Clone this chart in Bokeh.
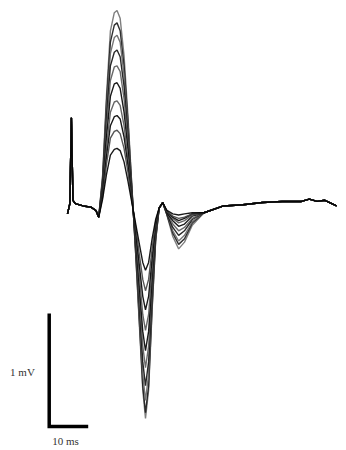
from bokeh.plotting import figure
from bokeh.models import Range1d
from bokeh.core.properties import value
from bokeh.embed import file_html
from bokeh.resources import INLINE

# time points (ms)
t_pre = [0, 0.6, 1.0, 1.4, 2, 4, 6, 7.3, 8.0]
t_mid = [9, 10, 11, 12, 12.7, 13.5, 14.5, 15.5, 16.5, 17.5, 18.5, 19.3, 20.0,
         20.8, 21.7, 22.6, 23.5, 24.4, 25.5, 27, 28.5, 30, 32]
t_post = [35, 40, 45, 50, 55, 60, 62, 64, 66, 69]

# shared parts (mV)
v_pre = [-0.03, 0.06, 0.82, 0.09, 0.06, 0.04, 0.03, 0.00, -0.06]
v_post = [-0.02, 0.04, 0.05, 0.07, 0.08, 0.08, 0.10, 0.08, 0.09, 0.04]

# per-trace middle segment (mV)
trace1 = [0.31, 1.02, 1.59, 1.75, 1.77, 1.70, 1.37, 0.84, 0.22,
          -0.40, -1.06, -1.59, -1.84, -1.59, -0.88, -0.27, 0.02, 0.07,
          -0.04, -0.23, -0.34, -0.28, -0.13]
trace2 = [0.29, 0.96, 1.49, 1.64, 1.66, 1.59, 1.28, 0.79, 0.21,
          -0.39, -1.03, -1.55, -1.79, -1.55, -0.86, -0.26, 0.02, 0.07,
          -0.04, -0.20, -0.30, -0.25, -0.11]
trace3 = [0.27, 0.89, 1.39, 1.53, 1.55, 1.49, 1.20, 0.74, 0.19,
          -0.36, -0.97, -1.45, -1.68, -1.45, -0.80, -0.25, 0.02, 0.07,
          -0.03, -0.18, -0.27, -0.22, -0.10]
trace4 = [0.25, 0.82, 1.28, 1.40, 1.42, 1.36, 1.10, 0.67, 0.18,
          -0.34, -0.89, -1.34, -1.55, -1.34, -0.74, -0.23, 0.02, 0.07,
          -0.03, -0.15, -0.22, -0.18, -0.08]
trace5 = [0.22, 0.74, 1.15, 1.27, 1.28, 1.23, 0.99, 0.61, 0.16,
          -0.30, -0.80, -1.20, -1.39, -1.20, -0.66, -0.20, 0.02, 0.07,
          -0.02, -0.12, -0.18, -0.15, -0.07]
trace6 = [0.20, 0.65, 1.01, 1.12, 1.13, 1.08, 0.87, 0.54, 0.14,
          -0.27, -0.71, -1.07, -1.24, -1.07, -0.59, -0.18, 0.02, 0.07,
          -0.02, -0.09, -0.14, -0.12, -0.05]
trace7 = [0.17, 0.56, 0.87, 0.96, 0.97, 0.93, 0.75, 0.46, 0.12,
          -0.23, -0.61, -0.92, -1.06, -0.92, -0.51, -0.16, 0.02, 0.07,
          -0.01, -0.07, -0.11, -0.09, -0.04]
trace8 = [0.15, 0.48, 0.75, 0.83, 0.84, 0.81, 0.65, 0.40, 0.10,
          -0.19, -0.51, -0.76, -0.88, -0.76, -0.42, -0.13, 0.02, 0.07,
          -0.01, -0.06, -0.09, -0.07, -0.03]
trace9 = [0.12, 0.41, 0.64, 0.70, 0.71, 0.68, 0.55, 0.34, 0.09,
          -0.15, -0.41, -0.61, -0.71, -0.61, -0.34, -0.10, 0.02, 0.07,
          -0.01, -0.05, -0.07, -0.06, -0.03]
trace10 = [0.10, 0.32, 0.49, 0.54, 0.55, 0.53, 0.43, 0.26, 0.07,
           -0.12, -0.31, -0.46, -0.53, -0.46, -0.25, -0.08, 0.02, 0.07,
           0.00, -0.03, -0.04, -0.03, -0.02]

traces = [trace1, trace2, trace3, trace4, trace5, trace6, trace7, trace8, trace9, trace10]
colors = ["#707070", "#1a1a1a", "#666666", "#111111", "#5a5a5a",
          "#000000", "#555555", "#000000", "#444444", "#000000"]

# scale bar
bar_mv = 1.0
bar_ms = 10.0
bar_x0 = -4.69
bar_y0 = -1.912

p = figure(width=346, height=450, output_backend="svg", toolbar_location=None,
           x_range=Range1d(-17.18, 71.54), y_range=Range1d(-2.124, 1.858),
           min_border=0, outline_line_color=None)
p.axis.visible = False
p.grid.visible = False
p.background_fill_color = "white"

t_all = t_pre + t_mid + t_post
for tr, c in zip(traces, colors):
    p.line(t_all, v_pre + tr + v_post, line_color=c, line_width=1.4, line_alpha=0.9)

p.line([bar_x0, bar_x0, bar_x0 + bar_ms], [bar_y0 + bar_mv, bar_y0, bar_y0],
       line_color="black", line_width=3.5, line_join="miter")

p.text(x=[-11.54], y=[-1.425], text=["1 mV"],
       text_font=value("Liberation Serif"), text_font_size="11px",
       text_align="center", text_baseline="middle", text_color="#333333")
p.text(x=[-0.51], y=[-2.044], text=["10 ms"],
       text_font=value("Liberation Serif"), text_font_size="11px",
       text_align="center", text_baseline="middle", text_color="#333333")

open("out.html", "w").write(file_html(p, INLINE))
